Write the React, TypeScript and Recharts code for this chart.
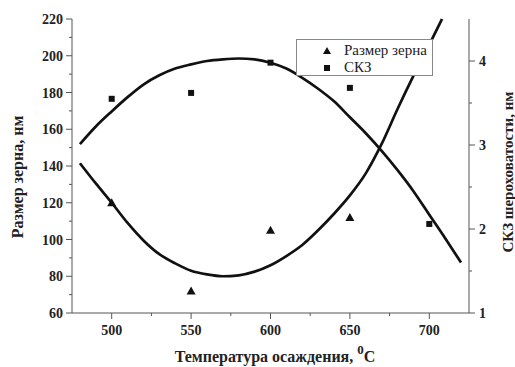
import React from 'react';
import { ComposedChart, Line, Scatter, XAxis, YAxis } from 'recharts';

// measured points
const temps = [500, 550, 600, 650, 700];
const grainSize = [120, 72, 105, 112];
const roughness = [3.55, 3.62, 3.98, 3.68, 2.06];

// fitted curves
const grainFitT = [480, 490, 500, 510, 520, 530, 540, 550, 560, 570, 580, 590, 600, 610, 620, 630, 640, 650, 660, 670, 680, 690, 700, 708];
const grainFitV = [141.5, 130.5, 120, 109, 99.5, 92, 87, 83, 81, 80, 80.5, 82.5, 86, 91, 97, 105, 114, 124, 136, 152, 171, 189, 206, 220];
const roughFitT = [480, 490, 500, 510, 520, 530, 540, 550, 560, 570, 580, 590, 600, 610, 620, 630, 640, 650, 660, 670, 680, 690, 700, 710, 720];
const roughFitV = [3.01, 3.22, 3.4, 3.57, 3.72, 3.83, 3.91, 3.96, 4.0, 4.02, 4.03, 4.02, 3.98, 3.91, 3.8, 3.67, 3.52, 3.33, 3.14, 2.93, 2.7, 2.45, 2.17, 1.89, 1.6];

const xTicks = [500, 525, 550, 575, 600, 625, 650, 675, 700];
const leftTicks = [60, 70, 80, 90, 100, 110, 120, 130, 140, 150, 160, 170, 180, 190, 200, 210, 220];
const rightTicks = [1, 1.5, 2, 2.5, 3, 3.5, 4];

const grainPts = grainSize.map((v, i) => ({ t: temps[i], v }));
const roughPts = roughness.map((r, i) => ({ t: temps[i], r }));
const grainFit = grainFitT.map((t, i) => ({ t, v: grainFitV[i] }));
const roughFit = roughFitT.map((t, i) => ({ t, r: roughFitV[i] }));

const AXIS = '#555';
const FONT = '"Liberation Serif", "Times New Roman", serif';
const tickText = { fontFamily: FONT, fontSize: 14, fontWeight: 700, fill: '#222' };

const BottomTick = ({ x, y, payload }: any) => {
  const major = payload.value % 50 === 0;
  return (
    <g>
      <line x1={x} x2={x} y1={y} y2={y + (major ? 6 : 3)} stroke={AXIS} />
      {major && (
        <text x={x} y={y + 22} textAnchor="middle" {...tickText}>
          {payload.value}
        </text>
      )}
    </g>
  );
};

const TopTick = ({ x, y }: any) => <line x1={x} x2={x} y1={y} y2={y + 5} stroke={AXIS} />;

const LeftTick = ({ x, y, payload }: any) => {
  const major = payload.value % 20 === 0;
  return (
    <g>
      <line x1={x} x2={x - (major ? 6 : 3)} y1={y} y2={y} stroke={AXIS} />
      {major && (
        <text x={x - 9} y={y + 5} textAnchor="end" {...tickText}>
          {payload.value}
        </text>
      )}
    </g>
  );
};

const RightTick = ({ x, y, payload }: any) => {
  const major = Number.isInteger(payload.value);
  return (
    <g>
      <line x1={x} x2={x + (major ? 6 : 3)} y1={y} y2={y} stroke={AXIS} />
      {major && (
        <text x={x + 10} y={y + 5} textAnchor="start" {...tickText}>
          {payload.value}
        </text>
      )}
    </g>
  );
};

const Triangle = ({ cx, cy }: any) => (
  <path d={`M${cx},${cy - 4.5} L${cx + 4.5},${cy + 3.5} L${cx - 4.5},${cy + 3.5} Z`} fill="#111" />
);
const Square = ({ cx, cy }: any) => <rect x={cx - 3} y={cy - 3} width={6} height={6} fill="#111" />;

const titleStyle = { fontFamily: FONT, fontWeight: 700, fill: '#222' };

const LeftTitle = ({ viewBox }: any) => {
  const x = viewBox.x + 18;
  const y = viewBox.y + 158;
  return (
    <text x={x} y={y} transform={`rotate(-90 ${x} ${y})`} textAnchor="middle" dy={5} fontSize={16} {...titleStyle}>
      Размер зерна, нм
    </text>
  );
};

const RightTitle = ({ viewBox }: any) => {
  const x = viewBox.x + 39;
  const y = viewBox.y + 153;
  return (
    <text x={x} y={y} transform={`rotate(-90 ${x} ${y})`} textAnchor="middle" dy={5} fontSize={15} {...titleStyle}>
      СКЗ шероховатости, нм
    </text>
  );
};

const BottomTitle = ({ viewBox }: any) => (
  <text x={viewBox.x + 203} y={viewBox.y + 49} textAnchor="middle" fontSize={16} {...titleStyle}>
    Температура осаждения,{' '}
    <tspan dy={-8} fontSize={13}>0</tspan>
    <tspan dy={8}>C</tspan>
  </text>
);

export default function App() {
  return (
    <div style={{ position: 'absolute', left: 0, top: 0, width: 515, height: 367, background: '#fff' }}>
      <ComposedChart width={515} height={367} margin={{ top: 19, right: 0, bottom: 0, left: 0 }}>
        <XAxis
          xAxisId="bottom"
          dataKey="t"
          type="number"
          domain={[475, 725]}
          ticks={xTicks}
          interval={0}
          height={54}
          tickSize={0}
          tickMargin={0}
          tick={<BottomTick />}
          stroke={AXIS}
          label={<BottomTitle />}
        />
        <XAxis
          xAxisId="top"
          orientation="top"
          dataKey="t"
          type="number"
          domain={[475, 725]}
          ticks={xTicks}
          interval={0}
          height={0}
          tickSize={0}
          tickMargin={0}
          tick={<TopTick />}
          stroke={AXIS}
        />
        <YAxis
          yAxisId="left"
          type="number"
          domain={[60, 220]}
          ticks={leftTicks}
          interval={0}
          width={72}
          tickSize={0}
          tickMargin={0}
          tick={<LeftTick />}
          stroke={AXIS}
          label={<LeftTitle />}
        />
        <YAxis
          yAxisId="right"
          orientation="right"
          type="number"
          domain={[1, 4.5]}
          ticks={rightTicks}
          interval={0}
          width={46}
          tickSize={0}
          tickMargin={0}
          tick={<RightTick />}
          stroke={AXIS}
          label={<RightTitle />}
        />
        <Line
          xAxisId="bottom"
          yAxisId="left"
          data={grainFit}
          dataKey="v"
          type="monotone"
          stroke="#111"
          strokeWidth={2.7}
          dot={false}
          activeDot={false}
          isAnimationActive={false}
        />
        <Line
          xAxisId="bottom"
          yAxisId="right"
          data={roughFit}
          dataKey="r"
          type="monotone"
          stroke="#111"
          strokeWidth={2.7}
          dot={false}
          activeDot={false}
          isAnimationActive={false}
        />
        <Scatter
          xAxisId="bottom"
          yAxisId="left"
          data={grainPts}
          dataKey="v"
          shape={<Triangle />}
          isAnimationActive={false}
        />
        <Scatter
          xAxisId="bottom"
          yAxisId="right"
          data={roughPts}
          dataKey="r"
          shape={<Square />}
          isAnimationActive={false}
        />
      </ComposedChart>
      <div
        style={{
          position: 'absolute',
          left: 296,
          top: 39,
          width: 135,
          height: 35,
          border: '1px solid #888',
          background: '#fff',
          fontFamily: FONT,
          fontSize: 15,
          color: '#222',
          lineHeight: '17px',
        }}
      >
        <div style={{ position: 'absolute', left: 25, top: 2, whiteSpace: 'nowrap' }}>
          <svg width={10} height={10} style={{ position: 'absolute', left: 0, top: 4 }}>
            <path d="M5,1 L9,8 L1,8 Z" fill="#111" />
          </svg>
          <span style={{ position: 'absolute', left: 22, top: 0 }}>Размер зерна</span>
        </div>
        <div style={{ position: 'absolute', left: 25, top: 19, whiteSpace: 'nowrap' }}>
          <svg width={10} height={10} style={{ position: 'absolute', left: 0, top: 4 }}>
            <rect x={2} y={2} width={6} height={6} fill="#111" />
          </svg>
          <span style={{ position: 'absolute', left: 22, top: 0 }}>СКЗ</span>
        </div>
      </div>
    </div>
  );
}
